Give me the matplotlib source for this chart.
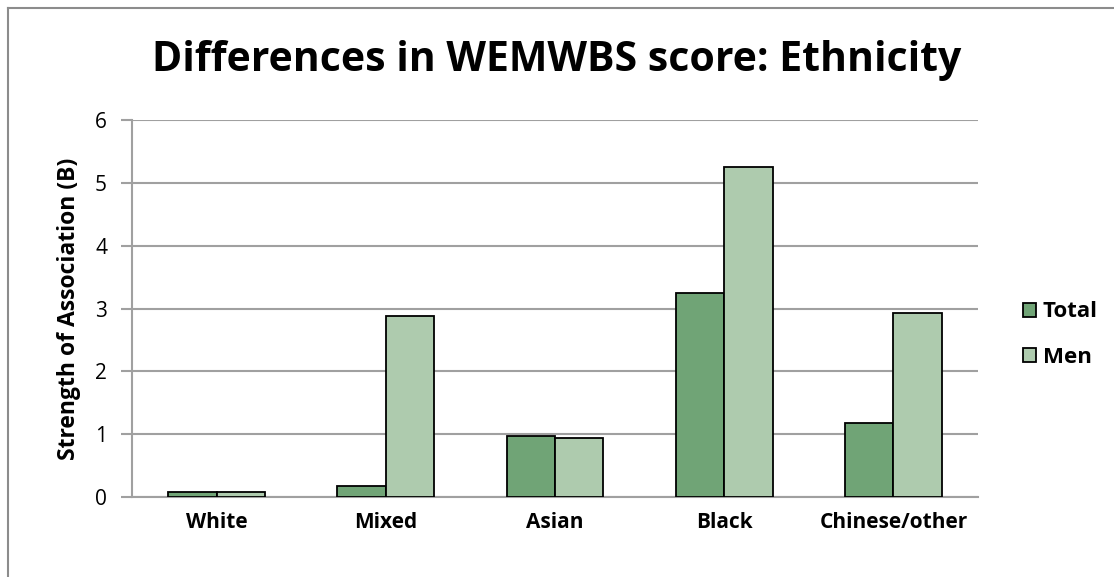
import numpy as np
import matplotlib.pyplot as plt
from matplotlib.lines import Line2D

# Data
categories = ["White", "Mixed", "Asian", "Black", "Chinese/other"]
total_vals = [0.08, 0.17, 0.97, 3.25, 1.18]
men_vals = [0.08, 2.88, 0.94, 5.25, 2.93]
series_names = ["Total", "Men"]
y_ticks = [0, 1, 2, 3, 4, 5, 6]

TOTAL_COLOR = "#70A476"
MEN_COLOR = "#AECBAE"
GRID_COLOR = "#A0A0A0"

plt.rcParams["font.family"] = ["Open Sans", "DejaVu Sans"]

fig = plt.figure(figsize=(11.14, 5.77), dpi=100)
ax = fig.add_axes([0.1185, 0.1386, 0.7595, 0.6534])

x = np.arange(len(categories))
w = 0.286
b1 = ax.bar(x - w / 2, total_vals, w, color=TOTAL_COLOR, edgecolor="black", linewidth=1.3, zorder=3)
b2 = ax.bar(x + w / 2, men_vals, w, color=MEN_COLOR, edgecolor="black", linewidth=1.3, zorder=3)

ax.set_xlim(-0.5, len(categories) - 0.5)
ax.set_ylim(0, 6)
ax.set_yticks(y_ticks)
ax.set_yticklabels([str(t) for t in y_ticks], fontsize=15)
ax.set_xticks(x)
ax.set_xticklabels(categories, fontsize=15, fontweight="bold")
ax.tick_params(axis="x", length=0, pad=11)
ax.tick_params(axis="y", length=8, width=1.5, color=GRID_COLOR, pad=10)

ax.grid(axis="y", color=GRID_COLOR, linewidth=1.5, zorder=0)
for side in ["top", "right"]:
    ax.spines[side].set_visible(False)
for side in ["left", "bottom"]:
    ax.spines[side].set_color(GRID_COLOR)
    ax.spines[side].set_linewidth(1.5)

ax.set_ylabel("Strength of Association (B)", fontsize=16.5, fontweight="bold", labelpad=10)

fig.text(0.5, 0.895, "Differences in WEMWBS score: Ethnicity", ha="center", va="center",
         fontsize=29.5, fontweight="bold")

leg = fig.legend([b1, b2], series_names, loc="center left", bbox_to_anchor=(0.9, 0.42),
                 frameon=False, handlelength=0.6, handleheight=0.6, handletextpad=0.3,
                 labelspacing=1.1, prop={"weight": "bold", "size": 16})

# chart frame (left and top edges)
fig.add_artist(Line2D([0.0072, 0.0072], [0.0, 0.986], transform=fig.transFigure, color="#8C8C8C", linewidth=1.5))
fig.add_artist(Line2D([0.0072, 1.0], [0.986, 0.986], transform=fig.transFigure, color="#8C8C8C", linewidth=1.5))

fig.savefig("out.png", dpi=100)
